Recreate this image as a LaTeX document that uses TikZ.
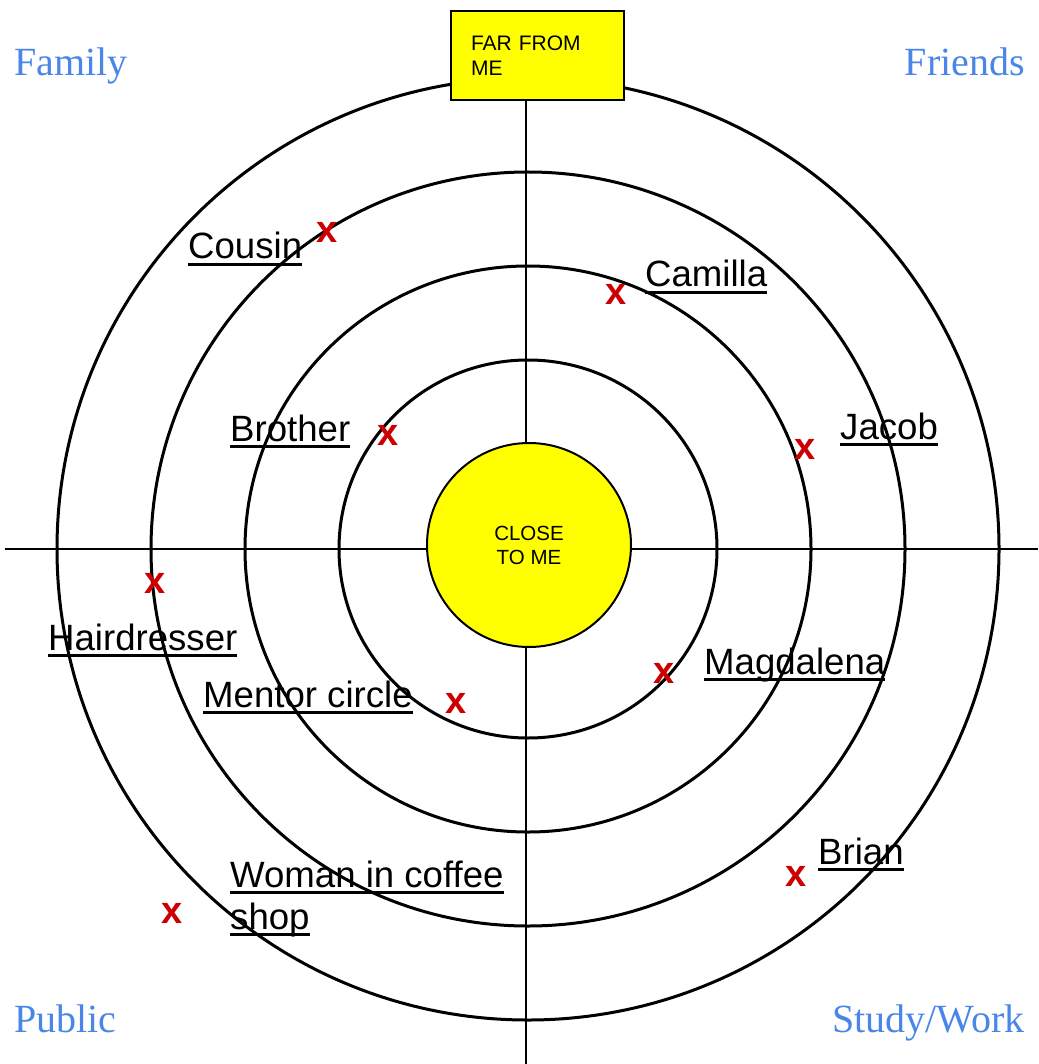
\documentclass[tikz,border=0pt]{standalone}
\usepackage{fontspec}
\setmainfont{Liberation Sans}
\newfontfamily\cornerfont{Liberation Serif}
\usepackage{tikz}
\usetikzlibrary{positioning}
\definecolor{groupblue}{HTML}{4A86E8}
\definecolor{markred}{HTML}{CC0000}
\definecolor{sunyellow}{HTML}{FFFF00}
\newcommand\ulined[1]{\setbox0\hbox{#1}\rlap{\rule[-7pt]{\wd0}{2.6pt}}\box0}
\tikzstyle{sector} = [text=groupblue, font=\cornerfont\fontsize{40}{46}\selectfont, inner sep=0pt]
\tikzstyle{person} = [font=\fontsize{36.6}{42}\selectfont, inner sep=0pt, anchor=base west]
\tikzstyle{redx} = [text=markred, font=\bfseries\fontsize{38}{42}\selectfont, inner sep=0pt]
\tikzstyle{ring} = [draw, line width=3pt]
\tikzstyle{axis} = [draw, line width=2pt]
\tikzstyle{farbox} = [rectangle, draw, line width=2.3pt, fill=sunyellow, minimum width=173pt,
    minimum height=89pt, text width=133pt, align=left, font=\fontsize{21}{25}\selectfont]
\tikzstyle{closedisk} = [circle, draw, line width=2pt, fill=sunyellow, minimum size=204pt,
    align=center, font=\fontsize{20.5}{24}\selectfont]

\begin{document}
\begin{tikzpicture}[x=1pt, y=-1pt]
        \useasboundingbox (0,0) rectangle (1038,1064);
        \coordinate (centre) at (528,549);
        \coordinate (west) at (5,549);
        \coordinate (east) at (1038,549);
        \coordinate (south) at (526,1064);
        % rings
        \foreach \r in {189,283,377,471}
            \path [ring] (centre) circle[radius=\r];
        % axes
        \path [axis] (west) -- (east);
        \path [axis] (526,100) -- (south);
        % nodes
        \node [farbox] (far) at (537.5,55.5) {FAR FROM\\ME};
        \node [closedisk] (close) at (529,545) {CLOSE\\TO ME};
        \node [sector, anchor=base west] (family) at (14,76) {Family};
        \node [sector, anchor=base east] (friends) at (1025,76) {Friends};
        \node [sector, anchor=base west] (public) at (14,1032) {Public};
        \node [sector, anchor=base east] (study) at (1025,1032) {Study/Work};
        % people
        \node [redx] (xcousin) at (327,232) {x};
        \node [person] (cousin) at (188,259) {\ulined{Cousin}};
        \node [redx] (xcamilla) at (616,294) {x};
        \node [person] (camilla) at (645,287) {\ulined{Camilla}};
        \node [redx] (xbrother) at (388,435) {x};
        \node [person] (brother) at (230,441) {\ulined{Brother}};
        \node [redx] (xjacob) at (805,449) {x};
        \node [person] (jacob) at (840,439) {\ulined{Jacob}};
        \node [redx] (xhair) at (155,583) {x};
        \node [person] (hair) at (48,650) {\ulined{Hairdresser}};
        \node [redx] (xmagda) at (664,673) {x};
        \node [person] (magda) at (704,674) {\ulined{Magdalena}};
        \node [redx] (xmentor) at (456,703) {x};
        \node [person] (mentor) at (203,707) {\ulined{Mentor circle}};
        \node [redx] (xbrian) at (796,876) {x};
        \node [person] (brian) at (818,864) {\ulined{Brian}};
        \node [redx] (xwoman) at (172,913) {x};
        \node [person, align=left] (woman) at (230,929) {\ulined{Woman in coffee}\\\ulined{shop}};
    \end{tikzpicture}
\end{document}
